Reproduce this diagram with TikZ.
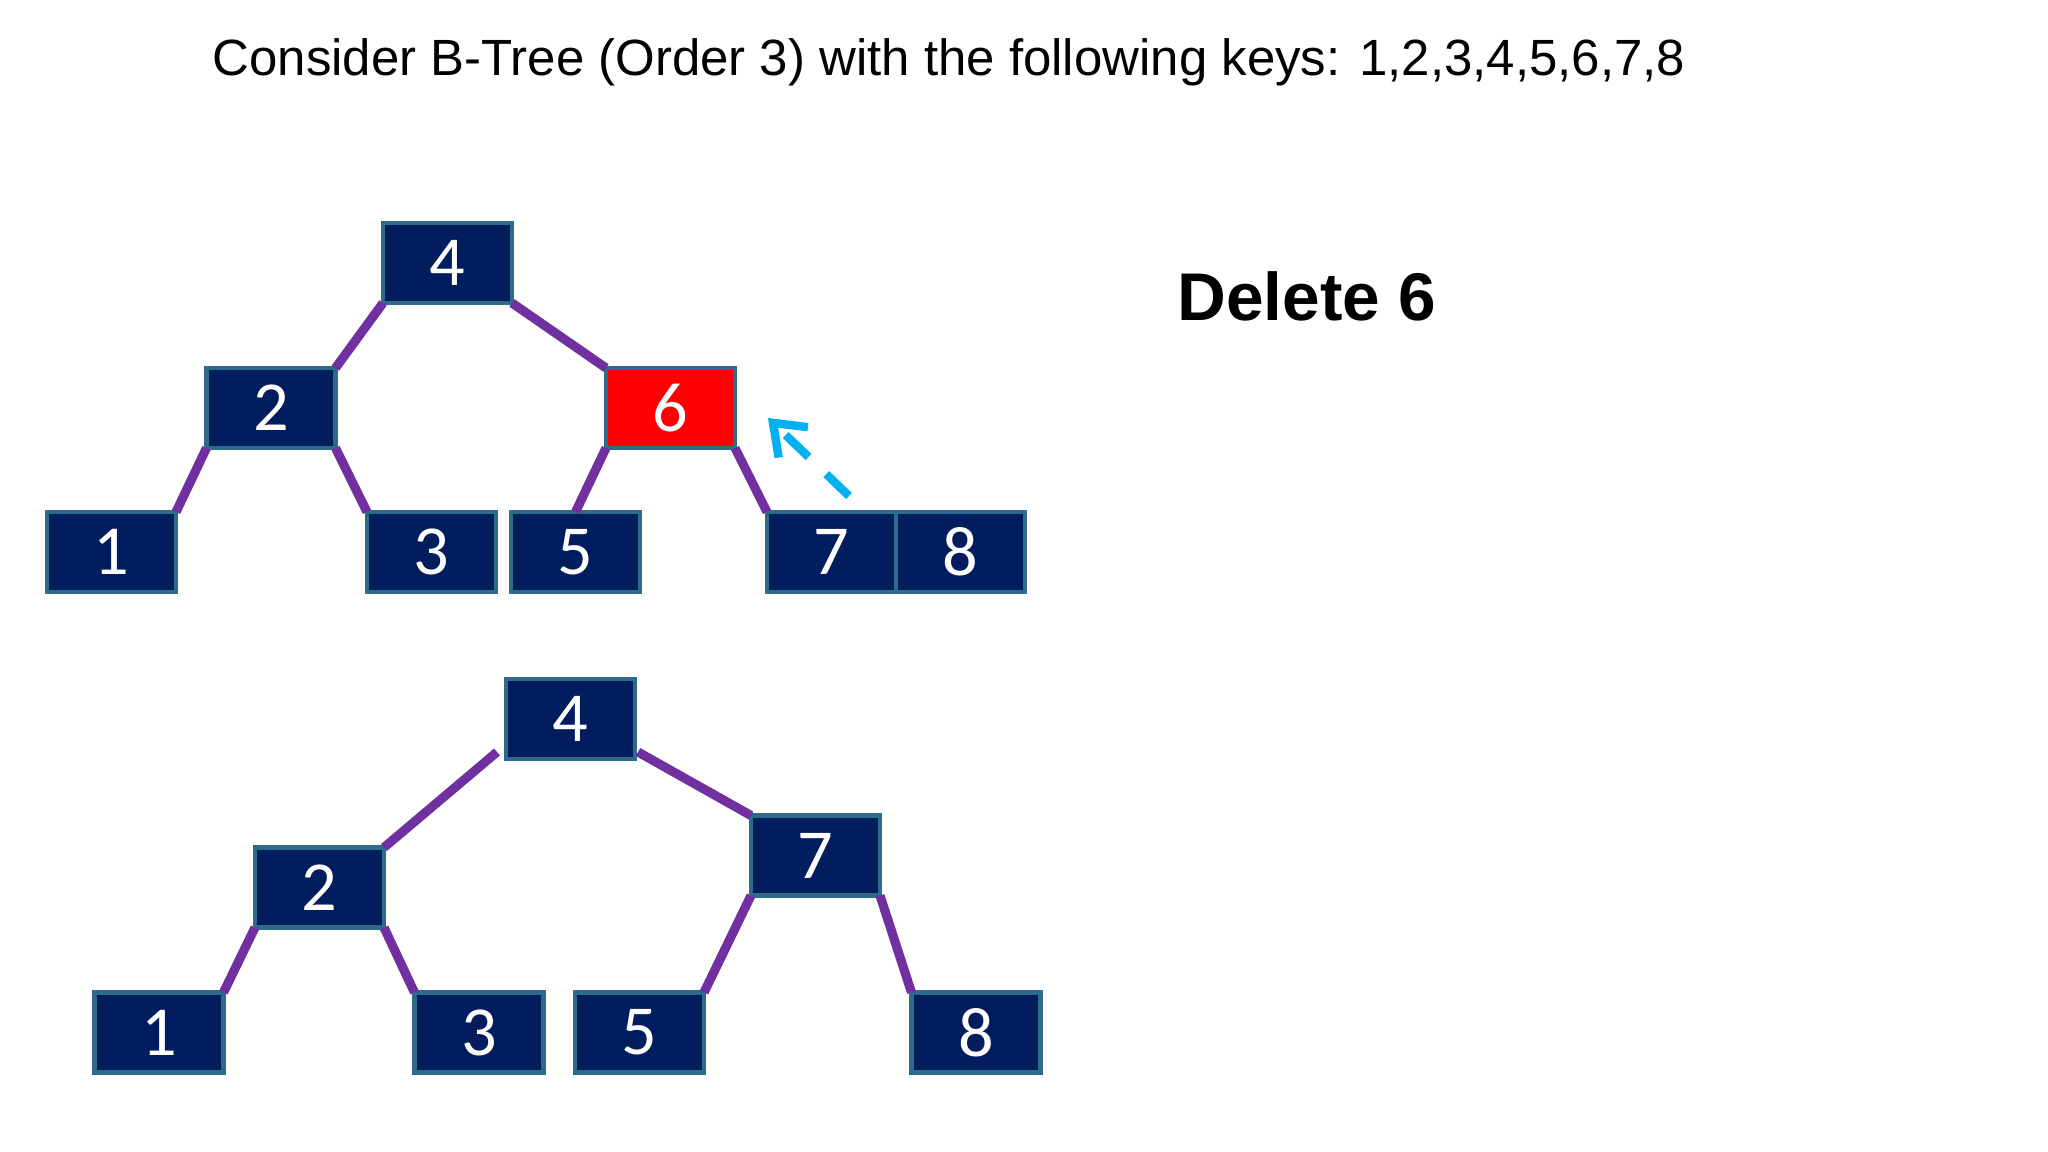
\documentclass[tikz,border=0pt]{standalone}
\usepackage{fontspec}
\setmainfont{Liberation Sans}
\newfontfamily\keyfont{Carlito}
\usetikzlibrary{arrows.meta,calc,positioning}
\definecolor{bnavy}{RGB}{2,29,94}
\definecolor{bframe}{RGB}{44,108,138}
\definecolor{bred}{RGB}{255,0,0}
\definecolor{bpurple}{RGB}{112,48,160}
\definecolor{bcyan}{RGB}{0,176,240}
\newcommand{\kW}{1.29cm}
\newcommand{\kH}{0.80cm}
\tikzset{
  keybox/.style ={draw=bframe,fill=bnavy,line width=1.4pt,minimum width=\kW,minimum height=\kH,
                  inner sep=0pt,outer sep=0pt,text=white,font=\keyfont\fontsize{20}{20}\selectfont},
  delbox/.style ={keybox,fill=bred},
  tedge/.style  ={draw=bpurple,line width=2.6pt},
  movarr/.style ={draw=bcyan,line width=2.4pt,dash pattern=on 9pt off 7pt,
                  -{Straight Barb[length=8pt,width=12pt,line width=2.4pt]}},
  ttl/.style    ={anchor=base,inner sep=0pt},
}

\begin{document}
\begin{tikzpicture}
  \useasboundingbox (0,0) rectangle (20.48,-11.52);
  \node[ttl,font=\fontsize{14.5}{17}\selectfont] (title) at (9.49,-0.76)
    {Consider B-Tree (Order 3) with the following keys: 1,2,3,4,5,6,7,8};
  \node[ttl,font=\bfseries\fontsize{19.2}{23}\selectfont] (op) at (13.07,-3.21) {Delete 6};
  % tree before deleting
  \node[keybox] (t4) at (4.475,-2.63) {4};
  \node[keybox] (t2) at (2.71,-4.08) {2};
  \node[delbox] (t6) at (6.705,-4.08) {6};
  \node[keybox] (t1) at (1.115,-5.52) {1};
  \node[keybox] (t3) at (4.315,-5.52) {3};
  \node[keybox] (t5) at (5.755,-5.52) {5};
  \node[keybox] (t7) at (8.315,-5.52) {7};
  \node[keybox,right=0pt of t7] (t8) {8};
  \draw[tedge] (t4.south west) -- (t2.north east);
  \draw[tedge] (t4.south east) -- (t6.north west);
  \draw[tedge] (t2.south west) -- (t1.north east);
  \draw[tedge] (t2.south east) -- (t3.north west);
  \draw[tedge] (t6.south west) -- (t5.north);
  \draw[tedge] (t6.south east) -- (t7.north west);
  \coordinate (mvA) at (8.49,-4.96);
  \coordinate (mvB) at (7.68,-4.18);
  \draw[movarr] (mvA) -- (mvB);
  % tree after deleting
  \node[keybox] (b4) at (5.705,-7.19) {4};
  \node[keybox] (b2) at (3.195,-8.875) {2};
  \node[keybox] (b7) at (8.155,-8.555) {7};
  \node[keybox] (b1) at (1.59,-10.325) {1};
  \node[keybox] (b3) at (4.79,-10.325) {3};
  \node[keybox] (b5) at (6.395,-10.325) {5};
  \node[keybox] (b8) at (9.76,-10.325) {8};
  \coordinate (b4l) at ($(b4.south west)+(-0.09,0.07)$);
  \coordinate (b4r) at ($(b4.south east)+(0.03,0.07)$);
  \draw[tedge] (b4l) -- (b2.north east);
  \draw[tedge] (b4r) -- (b7.north west);
  \draw[tedge] (b2.south west) -- (b1.north east);
  \draw[tedge] (b2.south east) -- (b3.north west);
  \draw[tedge] (b7.south west) -- (b5.north east);
  \draw[tedge] (b7.south east) -- (b8.north west);
\end{tikzpicture}
\end{document}
